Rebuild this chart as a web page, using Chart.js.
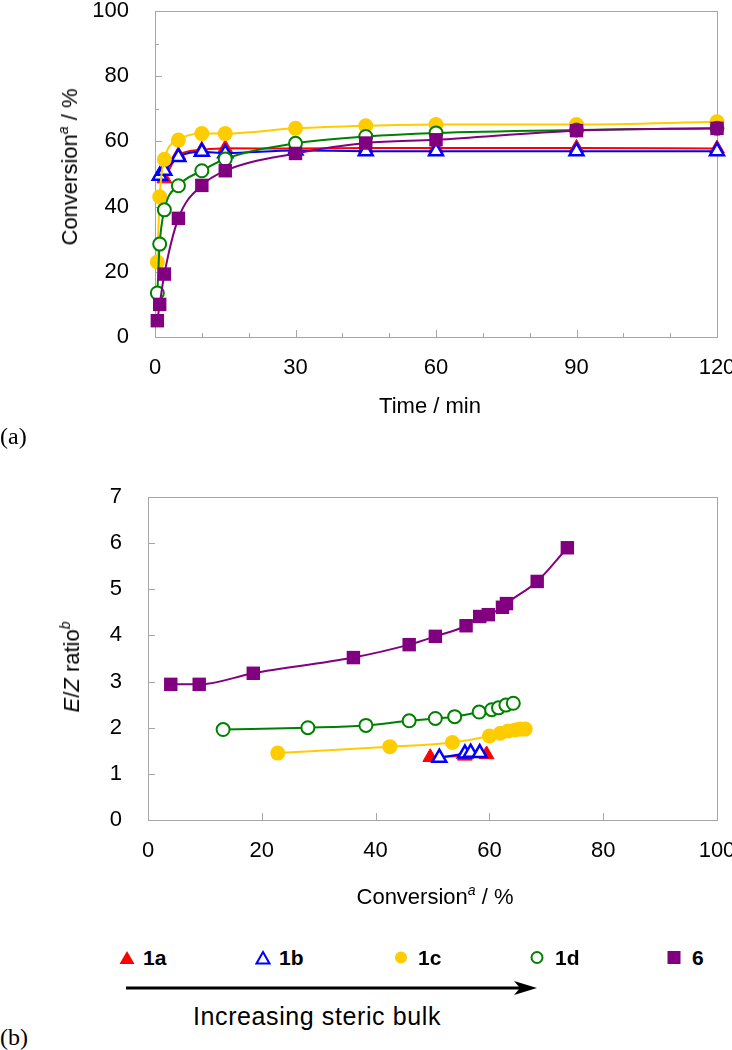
<!DOCTYPE html>
<html>
<head>
<meta charset="utf-8">
<script src="https://cdn.jsdelivr.net/npm/chart.js@4.4.0/dist/chart.umd.min.js"></script>
<style>
  body { margin: 0; background: #fff; }
  #page { position: relative; width: 732px; height: 1050px; overflow: hidden;
          font-family: "Liberation Sans", Arial, sans-serif; color: #000; }
  canvas { position: absolute; left: 0; }
  .lbl { position: absolute; white-space: nowrap; font-size: 22px; line-height: 1;
         transform: translate(-50%, -50%); }
  .rot { transform: translate(-50%, -50%) rotate(-90deg); }
  .sup { font-size: 14px; font-style: italic; position: relative; top: -9px; }
  .panel { position: absolute; left: 0; font-family: "Liberation Serif", "Times New Roman", serif;
           font-size: 24px; line-height: 1; transform: translateY(-50%); }
  .leg { position: absolute; top: 957px; transform: translateY(-50%); font-weight: bold;
         font-size: 21px; line-height: 1; }
  .leg svg { position: absolute; top: 50%; transform: translateY(-50%); }
</style>
</head>
<body>
<div id="page">
  <canvas id="chartA" width="732" height="430" style="top:0"></canvas>
  <canvas id="chartB" width="732" height="470" style="top:440px"></canvas>

  <div class="lbl rot" style="left:70px; top:167px">Conversion<span class="sup">a</span> / %</div>
  <div class="lbl" style="left:430px; top:406px">Time / min</div>
  <div class="panel" style="top:436px">(a)</div>

  <div class="lbl rot" style="left:72px; top:667px"><i>E</i>/<i>Z</i> ratio<span class="sup">b</span></div>
  <div class="lbl" style="left:435px; top:897px">Conversion<span class="sup">a</span> / %</div>

  <div class="leg" style="left:143px"><svg width="16" height="15" style="left:-24px"><polygon points="8,1 15.5,14 0.5,14" fill="#FF0000"/></svg>1a</div>
  <div class="leg" style="left:279px"><svg width="16" height="15" style="left:-24px"><polygon points="8,2 14.5,13.5 1.5,13.5" fill="#fff" stroke="#0000FF" stroke-width="2"/></svg>1b</div>
  <div class="leg" style="left:418px"><svg width="14" height="14" style="left:-24px"><circle cx="7" cy="7" r="6" fill="#FFCC00"/></svg>1c</div>
  <div class="leg" style="left:555px"><svg width="14" height="14" style="left:-25px"><circle cx="7" cy="7" r="5.5" fill="#fff" stroke="#008000" stroke-width="2"/></svg>1d</div>
  <div class="leg" style="left:692px"><svg width="14" height="14" style="left:-25px"><rect x="0.5" y="0.5" width="13" height="13" fill="#800080"/></svg>6</div>

  <svg style="position:absolute; left:0; top:975px" width="560" height="26">
    <line x1="126" y1="13" x2="528" y2="13" stroke="#000" stroke-width="3"/>
    <path d="M537,13 L514,6 L520,13 L514,20 Z" fill="#000"/>
  </svg>
  <div class="lbl" style="left:317px; top:1016px; font-size:25px; letter-spacing:0.6px">Increasing steric bulk</div>
  <div class="panel" style="top:1037px">(b)</div>
</div>

<script>
// (a) conversion vs time
const timeMain = [0.5, 1, 2, 5, 10, 15, 30, 45, 60, 90, 120];
const time1a = [2, 5, 10, 15, 30, 45, 60, 90, 120];
const time1b = [1, 2, 5, 10, 15, 30, 45, 60, 90, 120];
const conv1a = [48.6, 55.8, 57.4, 57.9, 57.8, 58, 58, 58, 57.8];
const conv1b = [49.5, 51, 55.2, 56.8, 56.4, 57.2, 57, 57, 57, 57];
const conv1c = [23, 43, 54.5, 60.4, 62.4, 62.4, 64, 64.8, 65.2, 65.2, 66];
const conv1d = [13.5, 28.5, 39, 46.4, 51, 54.6, 59.4, 61.5, 62.6, 63.5, 64];
const conv6 = [5, 10, 19.3, 36.4, 46.5, 51, 56.3, 59.5, 60.5, 63.3, 64];

// (b) E/Z ratio vs conversion
const ezConv1a = [49.6, 55.7, 59.5];
const ezRatio1a = [1.36, 1.39, 1.42];
const ezConv1b = [51.2, 55.7, 56.7, 58.3];
const ezRatio1b = [1.35, 1.44, 1.46, 1.45];
const ezConv1c = [22.8, 42.5, 53.5, 60.0, 61.9, 63.3, 64.5, 65.4, 66.3];
const ezRatio1c = [1.45, 1.59, 1.68, 1.82, 1.88, 1.93, 1.95, 1.97, 1.97];
const ezConv1d = [13.2, 28.1, 38.3, 45.9, 50.5, 53.9, 58.2, 60.4, 61.6, 62.9, 64.2];
const ezRatio1d = [1.96, 2.0, 2.05, 2.15, 2.2, 2.24, 2.34, 2.39, 2.43, 2.49, 2.53];
const ezConv6 = [4, 9, 18.5, 36.1, 45.9, 50.5, 55.9, 58.3, 59.8, 62.3, 63, 68.4, 73.7];
const ezRatio6 = [2.94, 2.94, 3.18, 3.52, 3.8, 3.98, 4.21, 4.41, 4.45, 4.61, 4.69, 5.17, 5.9];

const timeTicks = [0, 30, 60, 90, 120];
const convTicks = [0, 20, 40, 60, 80, 100];

const GRAY = "#a6a6a6";

const estilos = {
  "1a": { color: "#FF0000", shape: "triangle", fill: "#FF0000", r: 8.5, bw: 1, order: 5 },
  "1b": { color: "#0000FF", shape: "triangle", fill: "#FFFFFF", r: 8, bw: 2.5, order: 4 },
  "1c": { color: "#FFCC00", shape: "circle", fill: "#FFCC00", r: 7.5, bw: 0, order: 3 },
  "1d": { color: "#008000", shape: "circle", fill: "#FFFFFF", r: 6.5, bw: 2, order: 2 },
  "6":  { color: "#800080", shape: "rect", fill: "#800080", r: 9.5, bw: 0, order: 1 }
};

function serie(nombre, xs, ys) {
  const st = estilos[nombre];
  return {
    label: nombre,
    data: xs.map((x, i) => ({ x: x, y: ys[i] })),
    showLine: true,
    borderColor: st.color,
    borderWidth: 2,
    pointStyle: st.shape,
    pointRadius: st.r,
    pointHoverRadius: st.r,
    pointBackgroundColor: st.fill,
    pointBorderColor: st.color,
    pointBorderWidth: st.bw,
    cubicInterpolationMode: "monotone",
    tension: 0.4,
    clip: false,
    order: st.order
  };
}

// caja gris + marcas hacia dentro
const cajaPlugin = {
  id: "caja",
  beforeDatasetsDraw(chart) {
    const { ctx, chartArea: a } = chart;
    ctx.save();
    ctx.strokeStyle = GRAY;
    ctx.lineWidth = 1;
    ctx.strokeRect(Math.round(a.left) + 0.5, Math.round(a.top) + 0.5,
                   Math.round(a.right - a.left), Math.round(a.bottom - a.top));
    ctx.beginPath();
    const sx = chart.scales.x, sy = chart.scales.y;
    sx.ticks.forEach(t => {
      const px = Math.round(sx.getPixelForValue(t.value)) + 0.5;
      const len = t.label === "" ? 4 : 7;
      ctx.moveTo(px, a.bottom);
      ctx.lineTo(px, a.bottom - len);
    });
    sy.ticks.forEach(t => {
      const py = Math.round(sy.getPixelForValue(t.value)) + 0.5;
      const len = t.label === "" ? 4 : 7;
      ctx.moveTo(a.left, py);
      ctx.lineTo(a.left + len, py);
    });
    ctx.stroke();
    ctx.restore();
  }
};

const fuenteTicks = { family: "Liberation Sans, Arial, sans-serif", size: 22 };

function crearGrafica(id, datasets, cfg) {
  return new Chart(document.getElementById(id), {
    type: "scatter",
    data: { datasets: datasets },
    options: {
      responsive: false,
      animation: false,
      events: [],
      layout: { padding: { top: cfg.top, right: 15, left: 0, bottom: 0 } },
      plugins: { legend: { display: false }, tooltip: { enabled: false } },
      scales: {
        x: {
          type: "linear", min: cfg.xMin, max: cfg.xMax,
          grid: { display: false, drawTicks: false },
          border: { display: false },
          ticks: {
            stepSize: cfg.xStep, autoSkip: false, maxRotation: 0,
            color: "#000", font: fuenteTicks, padding: 18,
            callback: v => cfg.xLabels.includes(v) ? String(v) : ""
          },
          afterFit: s => { s.height = cfg.xHeight; s.paddingLeft = 0; s.paddingRight = 0; }
        },
        y: {
          type: "linear", min: cfg.yMin, max: cfg.yMax,
          grid: { display: false, drawTicks: false },
          border: { display: false },
          ticks: {
            stepSize: cfg.yStep, autoSkip: false,
            color: "#000", font: fuenteTicks, padding: 26,
            callback: v => cfg.yLabels.includes(v) ? String(v) : ""
          },
          afterFit: s => { s.width = cfg.yWidth; s.paddingTop = 0; s.paddingBottom = 0; }
        }
      }
    },
    plugins: [cajaPlugin]
  });
}

crearGrafica("chartA", [
  serie("1a", time1a, conv1a),
  serie("1b", time1b, conv1b),
  serie("1c", timeMain, conv1c),
  serie("1d", timeMain, conv1d),
  serie("6", timeMain, conv6)
], {
  top: 11, xHeight: 93, yWidth: 155,
  xMin: 0, xMax: 120, xStep: 10, xLabels: timeTicks,
  yMin: 0, yMax: 100, yStep: 10, yLabels: convTicks
});

crearGrafica("chartB", [
  serie("1a", ezConv1a, ezRatio1a),
  serie("1b", ezConv1b, ezRatio1b),
  serie("1c", ezConv1c, ezRatio1c),
  serie("1d", ezConv1d, ezRatio1d),
  serie("6", ezConv6, ezRatio6)
], {
  top: 57, xHeight: 90, yWidth: 148,
  xMin: 0, xMax: 100, xStep: 20, xLabels: [0, 20, 40, 60, 80, 100],
  yMin: 0, yMax: 7, yStep: 1, yLabels: [0, 1, 2, 3, 4, 5, 6, 7]
});
</script>
</body>
</html>
